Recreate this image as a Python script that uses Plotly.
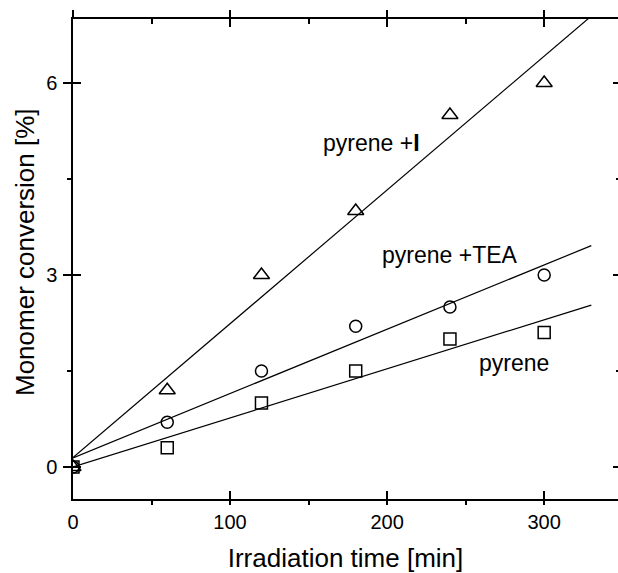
import numpy as np
import plotly.graph_objects as go

# ---- data ----
time_min = [0, 60, 120, 180, 240, 300]
pyrene_I = [0.0, 1.2, 3.0, 4.0, 5.5, 6.0]
pyrene_TEA = [0.0, 0.7, 1.5, 2.2, 2.5, 3.0]
pyrene = [0.0, 0.3, 1.0, 1.5, 2.0, 2.1]

x_ticks = [0, 100, 200, 300]
y_ticks = [0, 3, 6]

labels = ["pyrene +<b>I</b>", "pyrene +TEA", "pyrene"]
label_x = [190, 240, 281]
label_y = [5.06, 3.31, 1.62]

FIT_END = 330
X_RANGE = [0, 347]
Y_RANGE = [-0.5, 7.0]

FONT = "Liberation Sans, Arial, Helvetica, sans-serif"
BLACK = "#000000"

fig = go.Figure()

series = [
    (pyrene_I, "triangle-up-open", 14),
    (pyrene_TEA, "circle-open", 12),
    (pyrene, "square-open", 12),
]
fit_x = np.array([0, FIT_END], dtype=float)
for ys, sym, sz in series:
    slope, icpt = np.polyfit(time_min, ys, 1)
    fig.add_trace(go.Scatter(x=fit_x, y=slope * fit_x + icpt, mode="lines",
                             line=dict(color=BLACK, width=1.2),
                             showlegend=False, hoverinfo="skip"))
    fig.add_trace(go.Scatter(x=time_min, y=ys, mode="markers",
                             marker=dict(symbol=sym, size=sz, color=BLACK,
                                         line=dict(color=BLACK, width=1.5)),
                             showlegend=False))

# empty helper traces so overlay axes are drawn
fig.add_trace(go.Scatter(x=[], y=[], xaxis="x2", yaxis="y2", showlegend=False))
fig.add_trace(go.Scatter(x=[], y=[], xaxis="x3", yaxis="y3", showlegend=False))

for t, xv, yv in zip(labels, label_x, label_y):
    fig.add_annotation(x=xv, y=yv, text=t, showarrow=False,
                       font=dict(family=FONT, size=23, color=BLACK))

# y-axis title
fig.add_annotation(x=0, y=0.5, xref="paper", yref="paper", xanchor="center",
                   yanchor="middle", xshift=-48, yshift=7, textangle=-90,
                   text="Monomer conversion [%]", showarrow=False,
                   font=dict(family=FONT, size=26, color=BLACK))

common = dict(color=BLACK, tickcolor=BLACK, zeroline=False, showgrid=False,
              tickwidth=1.5)

fig.update_layout(
    width=618, height=573,
    margin=dict(l=73, r=0, t=19, b=74),
    paper_bgcolor="white", plot_bgcolor="white",
    font=dict(family=FONT, color=BLACK),
    xaxis=dict(range=X_RANGE, tickvals=x_ticks, ticks="inside", ticklen=8,
               showline=True, linewidth=1.5, linecolor=BLACK,
               tickfont=dict(size=20), ticklabelstandoff=4,
               minor=dict(dtick=50, tick0=0, ticks="outside", ticklen=4,
                          tickwidth=1.5, tickcolor=BLACK),
               title=dict(text="Irradiation time [min]", font=dict(size=26),
                          standoff=20),
               automargin=False, **common),
    xaxis2=dict(range=X_RANGE, overlaying="x", side="top", anchor="y",
                tickvals=x_ticks, showticklabels=False, ticks="inside",
                ticklen=8, showline=True, linewidth=1.5, linecolor=BLACK,
                minor=dict(dtick=50, tick0=0, ticks="inside", ticklen=5,
                           tickwidth=1.5, tickcolor=BLACK),
                **common),
    xaxis3=dict(range=X_RANGE, overlaying="x", side="top", anchor="y",
                tickvals=x_ticks, showticklabels=False, ticks="outside",
                ticklen=8, showline=False, **common),
    yaxis=dict(range=Y_RANGE, tickvals=y_ticks, ticks="outside", ticklen=8,
               showline=True, linewidth=1.5, linecolor=BLACK,
               tickfont=dict(size=20), ticklabelstandoff=2,
               minor=dict(dtick=1.5, tick0=0, ticks="outside", ticklen=4,
                          tickwidth=1.5, tickcolor=BLACK),
               automargin=False, **common),
    yaxis2=dict(range=Y_RANGE, overlaying="y", side="left", anchor="x",
                tickvals=y_ticks, showticklabels=False, ticks="inside",
                ticklen=8, showline=False, **common),
    yaxis3=dict(range=Y_RANGE, overlaying="y", side="right", anchor="x",
                tickvals=y_ticks, showticklabels=False, ticks="inside",
                ticklen=5, showline=False,
                minor=dict(dtick=1.5, tick0=0, ticks="inside", ticklen=2,
                           tickwidth=1.5, tickcolor=BLACK),
                **common),
)

fig.write_html("out.html")
